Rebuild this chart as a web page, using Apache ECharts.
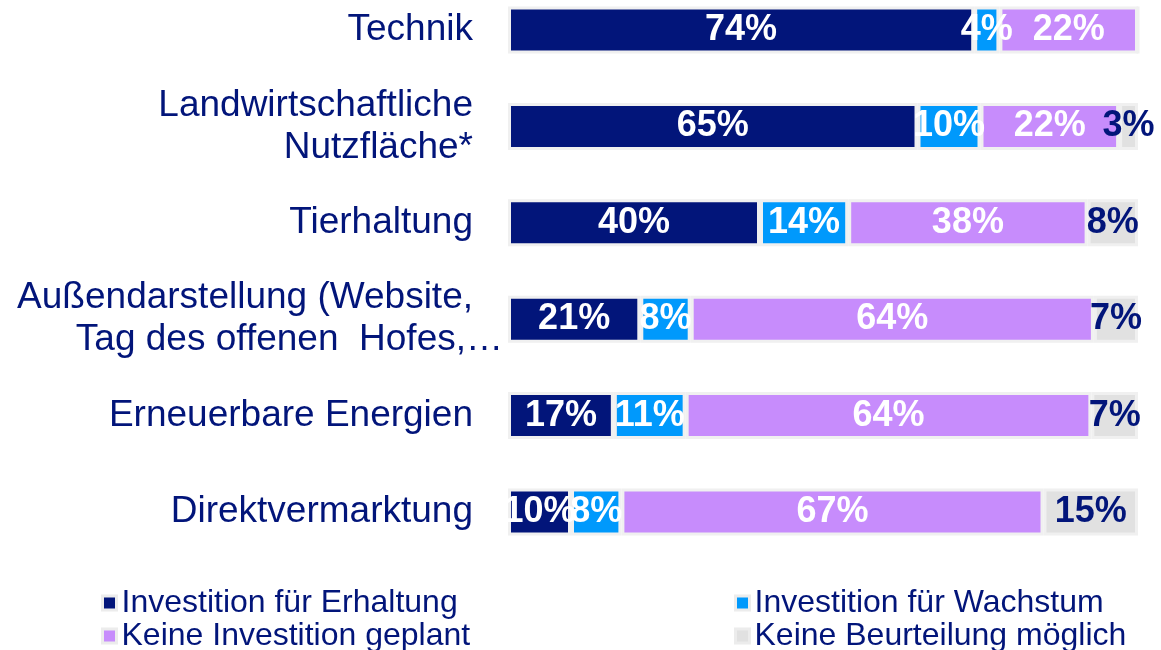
<!DOCTYPE html>
<html>
<head>
<meta charset="utf-8">
<script src="https://cdn.jsdelivr.net/npm/echarts@6/dist/echarts.min.js"></script>
<style>
    html, body { margin: 0; padding: 0; background: #ffffff; }
    #chart { width: 1161px; height: 650px; }
</style>
</head>
<body>
<div id="chart"></div>
<script>
    // Kategorien (von oben nach unten)
    var categories = [
        'Technik',
        'Landwirtschaftliche\nNutzfläche*',
        'Tierhaltung',
        'Außendarstellung (Website,\nTag des offenen  Hofes,…',
        'Erneuerbare Energien',
        'Direktvermarktung'
    ];
    var seriesNames = [
        'Investition für Erhaltung',
        'Investition für Wachstum',
        'Keine Investition geplant',
        'Keine Beurteilung möglich'
    ];
    // Anteile in %, Beschriftung gerundet
    var erhaltung = [74, 65, 40, 21, 16.8, 10];
    var wachstum = [4, 10, 14, 8, 11.4, 8];
    var keineInvestition = [22, 22, 38, 64, 64.4, 67];
    var keineBeurteilung = [0, 3, 8, 7, 7.4, 15];

    var navy = '#02157a';
    var colors = ['#02157a', '#0099fc', '#c78cfc', '#e1e1e1'];

    var chart = echarts.init(document.getElementById('chart'));

    function makeSeries(name, data, color, labelColor){
        return {
            type: 'bar',
            name: name,
            stack: 'total',
            barWidth: 47,
            data: data,
            itemStyle: {
                color: color,
                borderColor: '#f0f0f0',
                borderWidth: 3
            },
            label: {
                show: true,
                position: 'inside',
                fontFamily: 'Liberation Sans',
                fontWeight: 'bold',
                fontSize: 36,
                color: labelColor,
                formatter: function(p){
                    return p.value ? Math.round(p.value) + '%' : '';
                }
            }
        };
    }

    //ein Legendeneintrag pro Position (2 Spalten x 2 Zeilen)
    function makeLegend(name, left, top){
        return {
            left: left,
            top: top,
            itemWidth: 14,
            itemHeight: 14,
            icon: 'rect',
            data: [name],
            itemStyle: {
                borderColor: '#ececec',
                borderWidth: 3
            },
            textStyle: {
                fontFamily: 'Liberation Sans',
                fontSize: 32,
                color: navy,
                lineHeight: 32,
                padding: [0, 0, 0, 0]
            }
        };
    }

    chart.setOption({
        animation: false,
        grid: {
            left: 508,
            right: 23,
            top: 30,
            bottom: 138
        },
        xAxis: {
            type: 'value',
            min: 0,
            max: 100,
            show: false
        },
        yAxis: {
            type: 'category',
            inverse: true,
            boundaryGap: false,
            data: categories,
            axisLine: { show: false },
            axisTick: { show: false },
            axisLabel: {
                margin: 5,
                align: 'right',
                formatter: function(value){
                    // letzte Zeile von "Außendarstellung" ragt im Original nach rechts
                    var lines = value.split('\n');
                    return lines.map(function(l, i){
                        if (value.indexOf('Außendarstellung') === 0 && i === 1) {
                            return '{o|' + l + '}';
                        }
                        return '{n|' + l + '}';
                    }).join('\n');
                },
                rich: {
                    n: {
                        fontFamily: 'Liberation Sans',
                        fontSize: 37,
                        color: navy,
                        lineHeight: 42,
                        padding: [0, 30, 0, 0]
                    },
                    o: {
                        fontFamily: 'Liberation Sans',
                        fontSize: 37,
                        color: navy,
                        lineHeight: 42
                    }
                }
            }
        },
        legend: [
            makeLegend(seriesNames[0], 96, 582),
            makeLegend(seriesNames[1], 729, 582),
            makeLegend(seriesNames[2], 96, 615),
            makeLegend(seriesNames[3], 729, 615)
        ],
        series: [
            makeSeries(seriesNames[0], erhaltung, colors[0], '#ffffff'),
            makeSeries(seriesNames[1], wachstum, colors[1], '#ffffff'),
            makeSeries(seriesNames[2], keineInvestition, colors[2], '#ffffff'),
            makeSeries(seriesNames[3], keineBeurteilung, colors[3], navy)
        ]
    });
</script>
</body>
</html>
